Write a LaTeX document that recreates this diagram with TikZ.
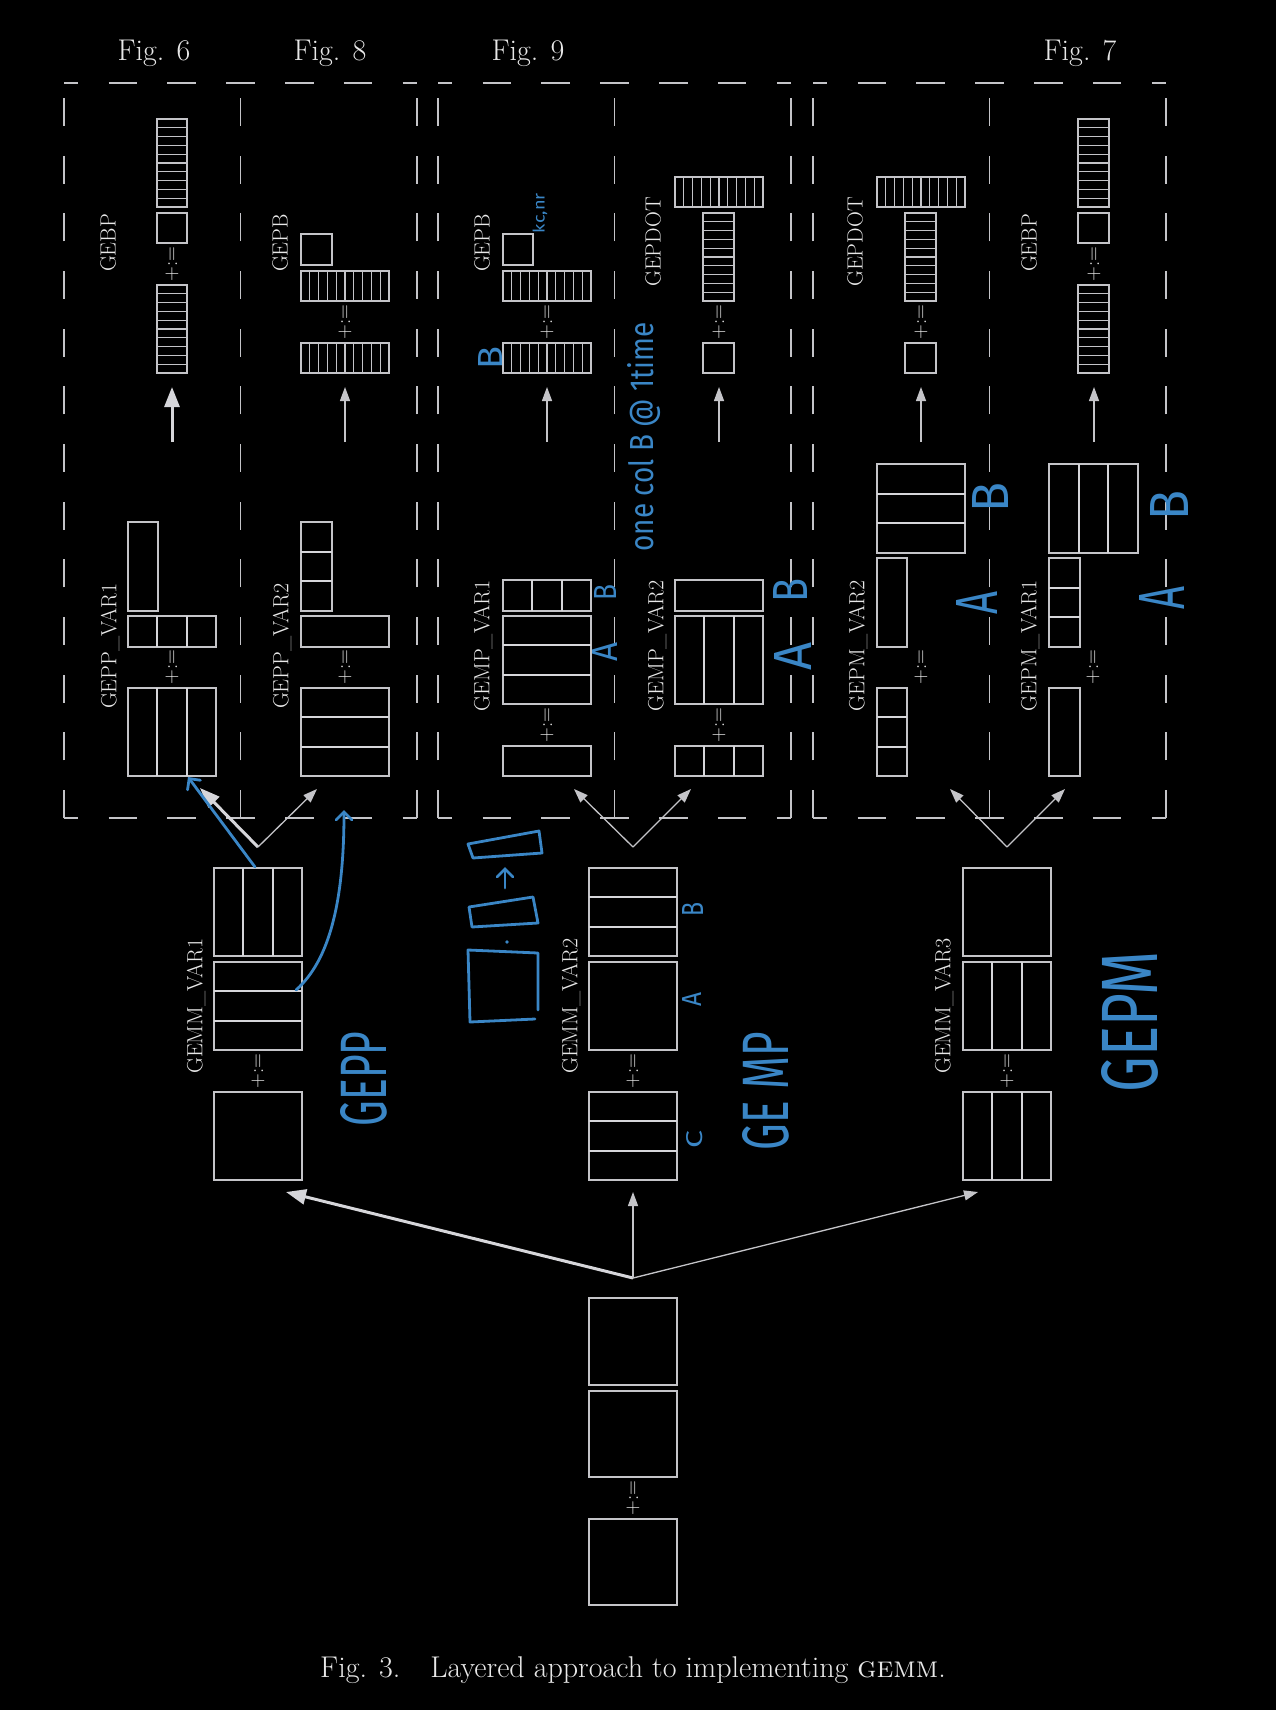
\documentclass[tikz,border=0pt]{standalone}
\usepackage{fontspec}
\usepackage{graphicx}
\newfontfamily\hand{Fira Sans}
\usetikzlibrary{arrows.meta}
\definecolor{ln}{RGB}{196,196,200}
\definecolor{lnb}{RGB}{214,214,218}
\definecolor{tx}{RGB}{232,232,232}
\definecolor{bl}{RGB}{58,134,198}
\newcommand\grid[7]{%
  \draw[bx] (#1,#2) rectangle (#3,#4);
  \ifnum#5>1 \foreach \k in {2,...,#5}{\draw[#7] (#1,{#2+(\k-1)*(#4-#2)/#5}) -- (#3,{#2+(\k-1)*(#4-#2)/#5});}\fi
  \ifnum#6>1 \foreach \k in {2,...,#6}{\draw[#7] ({#1+(\k-1)*(#3-#1)/#6},#2) -- ({#1+(\k-1)*(#3-#1)/#6},#4);}\fi
}
\newcommand\mtx[6]{\grid{#1}{#2}{#3}{#4}{#5}{#6}{septhick}}
\newcommand\stp[6]{\grid{#1}{#2}{#3}{#4}{#5}{#6}{septhin}}
\newcommand\grp[1]{%
  \foreach \dd in {0,176.5,353}{\draw[dl, dash pattern=on 28pt off 29.67pt] ({#1+\dd},818) -- ({#1+\dd},83);}
  \foreach \dd in {0,176.5}{%
    \draw[dl, dash pattern=on 28.5pt off 30.33pt, dash phase=14.25pt] ({#1+\dd},83) -- ({#1+\dd+176.5},83);
    \draw[dl, dash pattern=on 28.5pt off 30.33pt, dash phase=14.25pt] ({#1+\dd},818) -- ({#1+\dd+176.5},818);}
}
\begin{document}
\begin{tikzpicture}[x=1pt,y=-1pt,
  bx/.style={draw=ln, line width=1.2pt},
  septhick/.style={draw=lnb, line width=2pt},
  septhin/.style={draw=ln, line width=1.1pt},
  dl/.style={draw=ln, line width=1.3pt},
  lab/.style={text=tx, font=\fontsize{22}{26}\selectfont, rotate=90, inner sep=0pt},
  pe/.style={text=tx, font=\fontsize{20.5}{24}\selectfont, rotate=90, inner sep=0pt},
  fig/.style={text=tx, font=\fontsize{30}{36}\selectfont, inner sep=0pt},
  arr/.style={draw=ln, line width=1.3pt, -{Triangle[length=14pt,width=10pt]}},
  tarr/.style={draw=lnb, line width=3pt, -{Triangle[length=20pt,width=15pt]}},
  hnd/.style={text=bl, rotate=90, inner sep=0pt, font=\hand},
  bls/.style={draw=bl, line width=2.8pt, line cap=round, line join=round},
  blarr/.style={bls, -{Straight Barb[length=8pt,width=16pt,line cap=round]}}
]
\fill[black] (0,0) rectangle (1276,1710);
\useasboundingbox (0,0) rectangle (1276,1710);

% dashed groups
\grp{64}\grp{438}\grp{813}

% figure labels
\node[fig] (f6) at (154,53) {Fig. 6};
\node[fig] (f8) at (330,53) {Fig. 8};
\node[fig] (f9) at (528,53) {Fig. 9};
\node[fig] (f7) at (1080,53) {Fig. 7};

% ---------- upper row ----------
% panel 1 GEBP
\stp{157}{119}{187}{207}{10}{1}
\mtx{157}{213}{187}{243}{1}{1}
\stp{157}{285}{187}{373}{10}{1}
\node[pe] (pe1) at (172,264) {+:=};
\node[lab] (l1) at (108,243) {GEBP};
% panel 2 GEPB
\mtx{301}{234}{332}{265}{1}{1}
\stp{301}{271}{389}{301}{1}{10}
\stp{301}{343}{389}{373}{1}{10}
\node[pe] (pe2) at (345,322) {+:=};
\node[lab] (l2) at (280,243) {GEPB};
% panel 3 GEPB
\mtx{503}{234}{533}{265}{1}{1}
\stp{503}{271}{591}{301}{1}{10}
\stp{503}{343}{591}{373}{1}{10}
\node[pe] (pe3) at (547,322) {+:=};
\node[lab] (l3) at (482,243) {GEPB};
% panel 4 GEPDOT
\stp{675}{177}{763}{207}{1}{10}
\stp{703}{213}{734}{301}{10}{1}
\mtx{703}{343}{734}{373}{1}{1}
\node[pe] (pe4) at (719,322) {+:=};
\node[lab] (l4) at (653,242) {GEPDOT};
% panel 5 GEPDOT
\stp{877}{177}{965}{207}{1}{10}
\stp{905}{213}{936}{301}{10}{1}
\mtx{905}{343}{936}{373}{1}{1}
\node[pe] (pe5) at (921,322) {+:=};
\node[lab] (l5) at (855,242) {GEPDOT};
% panel 6 GEBP
\stp{1078}{119}{1109}{207}{10}{1}
\mtx{1078}{213}{1109}{243}{1}{1}
\stp{1078}{285}{1109}{373}{10}{1}
\node[pe] (pe6) at (1094,264) {+:=};
\node[lab] (l6) at (1029,243) {GEBP};

% up arrows
\foreach \n/\x in {1/172,2/345,3/547,4/719,5/921,6/1094}{
  \coordinate (us\n) at (\x,442); \coordinate (ut\n) at (\x,387);}
\draw[tarr] (us1) -- (ut1);
\foreach \n in {2,...,6}{\draw[arr] (us\n) -- (ut\n);}

% ---------- lower row in panels ----------
% GEPP_VAR1
\mtx{128}{522}{158}{611}{1}{1}
\mtx{128}{616}{216}{647}{1}{3}
\mtx{128}{688}{216}{776}{1}{3}
\node[pe] (pe7) at (172,667) {+:=};
\node[lab] (l7) at (110,646) {GEPP\_VAR1};
% GEPP_VAR2
\mtx{301}{522}{332}{611}{3}{1}
\mtx{301}{616}{389}{647}{1}{1}
\mtx{301}{688}{389}{776}{3}{1}
\node[pe] (pe8) at (345,667) {+:=};
\node[lab] (l8) at (282,646) {GEPP\_VAR2};
% GEMP_VAR1
\mtx{503}{580}{591}{611}{1}{3}
\mtx{503}{616}{591}{704}{3}{1}
\mtx{503}{746}{591}{776}{1}{1}
\node[pe] (pe9) at (547,725) {+:=};
\node[lab] (l9) at (483,646) {GEMP\_VAR1};
% GEMP_VAR2
\mtx{675}{580}{763}{611}{1}{1}
\mtx{675}{616}{763}{704}{1}{3}
\mtx{675}{746}{763}{776}{1}{3}
\node[pe] (pe10) at (719,725) {+:=};
\node[lab] (l10) at (657,646) {GEMP\_VAR2};
% GEPM_VAR2
\mtx{877}{464}{965}{553}{3}{1}
\mtx{877}{558}{907}{647}{1}{1}
\mtx{877}{688}{907}{776}{3}{1}
\node[pe] (pe11) at (921,667) {+:=};
\node[lab] (l11) at (858,646) {GEPM\_VAR2};
% GEPM_VAR1
\mtx{1049}{464}{1138}{553}{1}{3}
\mtx{1049}{558}{1080}{647}{3}{1}
\mtx{1049}{688}{1080}{776}{1}{1}
\node[pe] (pe12) at (1093,667) {+:=};
\node[lab] (l12) at (1030,646) {GEPM\_VAR1};

% V arrows
\coordinate (v1) at (258,847); \coordinate (v1l) at (200,788); \coordinate (v1r) at (317,789);
\coordinate (v2) at (633,847); \coordinate (v2l) at (574,789); \coordinate (v2r) at (691,789);
\coordinate (v3) at (1007,847); \coordinate (v3l) at (950,789); \coordinate (v3r) at (1065,789);
\draw[tarr] (v1) -- (v1l);
\draw[arr] (v1) -- (v1r);
\draw[arr] (v2) -- (v2l);
\draw[arr] (v2) -- (v2r);
\draw[arr] (v3) -- (v3l);
\draw[arr] (v3) -- (v3r);

% ---------- GEMM variants ----------
\mtx{214}{868}{302}{956}{1}{3}
\mtx{214}{962}{302}{1050}{3}{1}
\mtx{214}{1092}{302}{1180}{1}{1}
\node[pe] (pe13) at (258,1071) {+:=};
\node[lab] (l13) at (196,1006) {GEMM\_VAR1};

\mtx{589}{868}{677}{956}{3}{1}
\mtx{589}{962}{677}{1050}{1}{1}
\mtx{589}{1092}{677}{1180}{3}{1}
\node[pe] (pe14) at (633,1071) {+:=};
\node[lab] (l14) at (571,1006) {GEMM\_VAR2};

\mtx{963}{868}{1051}{956}{1}{1}
\mtx{963}{962}{1051}{1050}{1}{3}
\mtx{963}{1092}{1051}{1180}{1}{3}
\node[pe] (pe15) at (1007,1071) {+:=};
\node[lab] (l15) at (944,1006) {GEMM\_VAR3};

% bottom arrows
\coordinate (b0) at (633,1278);
\coordinate (bl) at (286,1192); \coordinate (bm) at (633,1192); \coordinate (br) at (978,1192);
\draw[tarr] (b0) -- (bl);
\draw[arr] (b0) -- (bm);
\draw[arr] (b0) -- (br);

% ---------- GEMM ----------
\mtx{589}{1298}{677}{1385}{1}{1}
\mtx{589}{1391}{677}{1477}{1}{1}
\mtx{589}{1519}{677}{1605}{1}{1}
\node[pe] (pe16) at (633,1498) {+:=};

\node[fig, anchor=base] (cap) at (633,1677) {Fig. 3.\quad Layered approach to implementing \textsc{gemm}.};

% ---------- blue annotations ----------
\node[hnd] (h1) at (540,213) {\resizebox{40pt}{12pt}{kc,nr}};
\node[hnd] (h2) at (490,358) {\resizebox{23pt}{24pt}{B}};
\node[hnd] (h3) at (644,437) {\resizebox{229pt}{26pt}{one col B @ 1time}};
\node[hnd] (h4) at (605,592) {\resizebox{16pt}{22pt}{B}};
\node[hnd] (h5) at (605,652) {\resizebox{19pt}{25pt}{A}};
\node[hnd] (h6) at (790,590) {\resizebox{24pt}{34pt}{B}};
\node[hnd] (h7) at (793,656) {\resizebox{28pt}{37pt}{A}};
\node[hnd] (h8) at (990,497) {\resizebox{30pt}{36pt}{B}};
\node[hnd] (h9) at (977,603) {\resizebox{23pt}{41pt}{A}};
\node[hnd] (h10) at (1169,505) {\resizebox{30pt}{38pt}{B}};
\node[hnd] (h11) at (1162,598) {\resizebox{23pt}{45pt}{A}};
\node[hnd] (h12) at (693,909) {\resizebox{14pt}{21pt}{B}};
\node[hnd] (h13) at (692,999) {\resizebox{14pt}{19pt}{A}};
\node[hnd] (h14) at (695,1139) {\resizebox{18pt}{16pt}{C}};
\node[hnd] (h15) at (766,1091) {\resizebox{118pt}{46pt}{GE MP}};
\node[hnd] (h16) at (1130,1022) {\resizebox{141pt}{56pt}{GEPM}};
\node[hnd] (h17) at (364,1079) {\resizebox{95pt}{46pt}{GEPP}};

% blue sketches
\draw[bls] (468,844) -- (539,831) -- (542,853) -- (473,858) -- cycle;
\coordinate (ka) at (505,888); \coordinate (kb) at (505,867);
\draw[blarr] (ka) -- (kb);
\draw[bls] (469,907) -- (533,897) -- (538,923) -- (472,927) -- cycle;
\fill[bl] (507,942) circle (1.8);
\draw[bls] (538,1010) -- (538,953) -- (468,950) -- (470,1022) -- (535,1019);
\coordinate (c1) at (255,867); \coordinate (c2) at (188,777);
\draw[blarr] (c1) -- (c2);
\coordinate (c3) at (296,990); \coordinate (c4) at (344,810);
\draw[blarr] (c3) .. controls (330,960) and (344,900) .. (c4);
\end{tikzpicture}
\end{document}
